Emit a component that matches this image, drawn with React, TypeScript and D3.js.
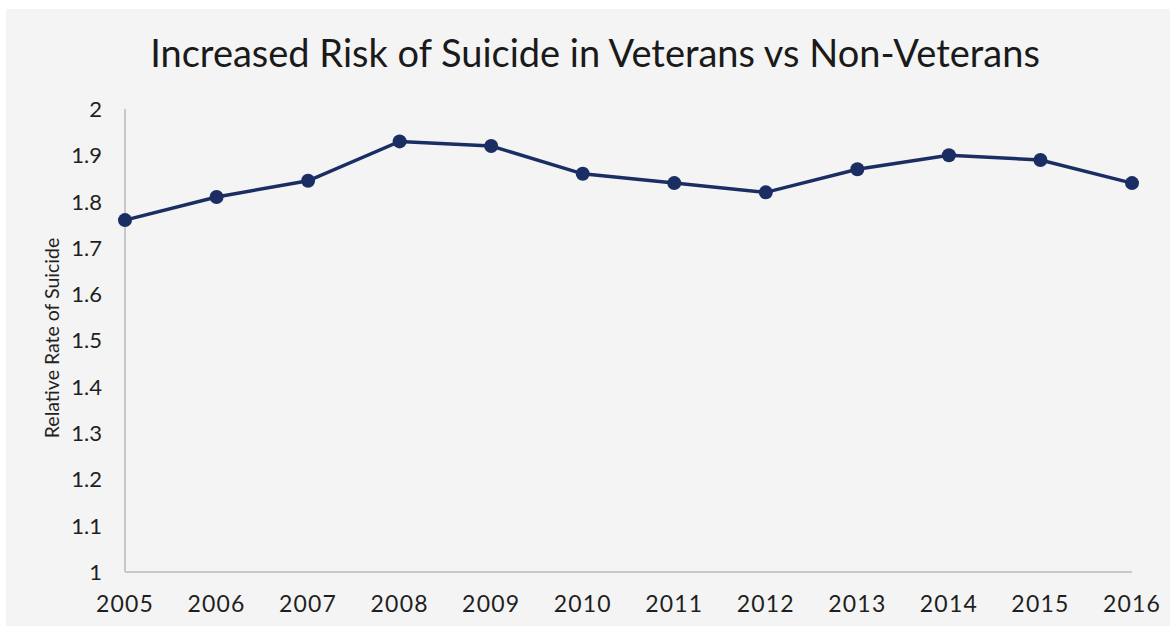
import React from "react";
import * as d3 from "d3";

const years = ["2005","2006","2007","2008","2009","2010","2011","2012","2013","2014","2015","2016"];
const relativeRate = [1.76,1.81,1.845,1.93,1.92,1.86,1.84,1.82,1.87,1.90,1.89,1.84];
const yTicks = [1,1.1,1.2,1.3,1.4,1.5,1.6,1.7,1.8,1.9,2];
const title = "Increased Risk of Suicide in Veterans vs Non-Veterans";
const yLabel = "Relative Rate of Suicide";

export default function App() {
  const W = 1170, H = 627;
  const x = d3.scalePoint<string>().domain(years).range([125, 1132]);
  const y = d3.scaleLinear().domain([1, 2]).range([572, 109]);
  const line = d3.line<number>().x((_, i) => x(years[i])!).y(d => y(d));
  const font = "Lato, 'Open Sans', sans-serif";
  return (
    <svg width={W} height={H} style={{ position: "absolute", left: 0, top: 0 }}>
      <rect x={0} y={0} width={W} height={H} fill="#ffffff" />
      <rect x={6} y={9} width={W - 6} height={617} fill="#f4f4f4" />
      <text x={595} y={67} textAnchor="middle" fontFamily={font} fontSize={38} fill="#1a1a1a">{title}</text>
      <line x1={125} x2={125} y1={y(2)} y2={y(1)} stroke="#c8c8c8" strokeWidth={2} />
      <line x1={125} x2={1132} y1={y(1)} y2={y(1)} stroke="#c8c8c8" strokeWidth={2} />
      {yTicks.map(t => (
        <text key={t} x={102} y={y(t)} dy="0.36em" textAnchor="end" fontFamily={font} fontSize={22} fill="#1f1f1f">{d3.format("~g")(t)}</text>
      ))}
      {years.map(yr => (
        <text key={yr} x={x(yr)!} y={612} textAnchor="middle" fontFamily={font} fontSize={23} letterSpacing={1.2} fill="#1f1f1f">{yr}</text>
      ))}
      <text transform={`translate(59,338) rotate(-90)`} textAnchor="middle" fontFamily={font} fontSize={19.5} fill="#222">{yLabel}</text>
      <path d={line(relativeRate) || ""} fill="none" stroke="#1b2e63" strokeWidth={3.5} />
      {relativeRate.map((v, i) => (
        <circle key={i} cx={x(years[i])!} cy={y(v)} r={7} fill="#1b2e63" />
      ))}
    </svg>
  );
}
